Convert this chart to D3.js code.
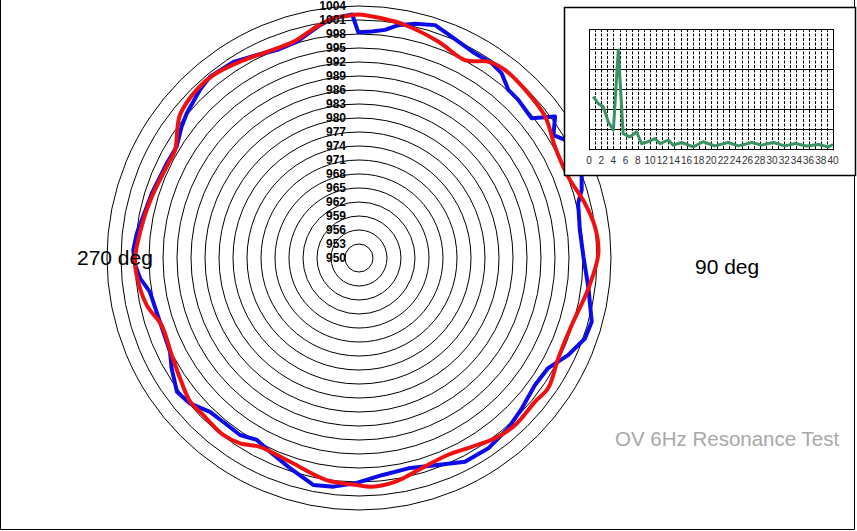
<!DOCTYPE html>
<html>
<head>
<meta charset="utf-8">
<script src="https://cdn.jsdelivr.net/npm/d3@7/dist/d3.min.js"></script>
<style>
  html, body { margin: 0; padding: 0; background: #fff; }
  svg { display: block; font-family: "Liberation Sans", Arial, sans-serif; }
</style>
</head>
<body>
<svg id="chart" width="857" height="531"></svg>
<script>
// ---------- data ----------
const ringValues = [950, 953, 956, 959, 962, 965, 968, 971, 974, 977, 980, 983, 986, 989, 992, 995, 998, 1001, 1004];

const blueAngles = [3.2, 6.5, 9.6, 13.5, 18.1, 22.7, 29.5, 34.3, 37.7, 41.6, 45.2, 51.0, 54.2, 57.7, 60.2, 65.0, 69.6, 73.0, 76.0, 82.8, 89.7, 97.5, 105.3, 109.6, 114.9, 120.2, 125.8, 132.7, 138.8, 145.8, 152.5, 159.8, 166.8, 174.0, 181.0, 186.4, 191.4, 198.2, 204.7, 209.3, 213.9, 219.7, 224.1, 229.3, 233.7, 239.5, 243.6, 252.3, 260.8, 264.7, 268.2, 272.0, 276.3, 280.8, 287.3, 296.2, 301.4, 306.5, 310.0, 316.6, 320.6, 327.4, 333.3, 338.4, 343.9, 350.5, 353.9, 358.4, 359.8];
const blueValues = [998.6, 999.2, 1000.6, 1001.6, 1002.5, 1001.4, 1000.4, 1000.5, 1000.0, 998.2, 998.1, 997.6, 1001.8, 999.3, 1000.9, 1001.2, 1000.9, 999.9, 998.4, 997.7, 998.1, 999.6, 1001.7, 1001.4, 999.4, 996.9, 996.5, 997.5, 998.5, 999.3, 999.2, 997.3, 996.3, 996.8, 998.3, 999.3, 999.6, 997.4, 995.7, 994.7, 995.7, 995.6, 995.9, 997.8, 998.4, 996.6, 995.2, 994.8, 995.4, 997.1, 998.0, 998.4, 997.9, 997.1, 996.5, 995.9, 995.8, 997.3, 998.2, 999.6, 1000.3, 999.9, 998.7, 997.9, 998.2, 1000.6, 1001.7, 1002.2, 998.4];

const redAngles = [5.4, 11.2, 20.1, 28.2, 33.4, 37.8, 45.8, 52.8, 60.4, 68.8, 76.4, 82.4, 88.9, 97.5, 107.5, 116.7, 124.5, 129.2, 137.0, 143.0, 149.2, 155.6, 163.4, 170.9, 176.8, 181.0, 188.3, 198.7, 207.7, 212.7, 217.5, 224.8, 229.6, 236.1, 242.6, 251.2, 257.5, 265.6, 269.7, 280.0, 287.5, 296.4, 300.4, 308.6, 316.0, 321.5, 328.8, 335.9, 343.1, 349.6, 353.9, 357.1, 359.8];
const redValues = [1001.6, 1000.9, 999.4, 998.1, 1000.4, 1001.0, 1000.6, 1000.1, 998.3, 998.1, 999.8, 1001.0, 1001.3, 999.6, 997.8, 997.8, 999.2, 998.7, 999.0, 998.4, 997.1, 996.3, 997.0, 998.6, 999.1, 998.6, 998.1, 996.1, 995.7, 997.2, 997.8, 997.4, 997.5, 996.2, 995.2, 994.7, 996.6, 997.8, 998.0, 996.9, 996.2, 995.6, 995.7, 999.1, 1000.1, 1000.1, 999.2, 998.4, 998.4, 1000.4, 1001.7, 1001.9, 1002.2];

const spectrumFreq = [0.7, 1.5, 2.35, 3.15, 4.0, 4.8, 5.6, 6.7, 7.8, 8.6, 9.7, 10.8, 11.6, 13.0, 13.8, 15.2, 17.1, 18.7, 20.6, 22.8, 24.5, 26.7, 28.3, 30.2, 32.1, 33.8, 35.7, 37.6, 39.2, 40];
const spectrumAmp = [2.6, 2.26, 2.09, 1.34, 0.92, 4.94, 0.75, 0.58, 0.84, 0.25, 0.34, 0.5, 0.25, 0.42, 0.17, 0.3, 0.08, 0.34, 0.13, 0.3, 0.13, 0.3, 0.17, 0.3, 0.13, 0.25, 0.13, 0.2, 0.08, 0.2];
const spectrumTicks = [0, 2, 4, 6, 8, 10, 12, 14, 16, 18, 20, 22, 24, 26, 28, 30, 32, 34, 36, 38, 40];

const angleLabels = ["270 deg", "90 deg"];
const titleText = "OV 6Hz Resonance Test";

// ---------- layout ----------
const svg = d3.select("#chart");
const cx = 359, cy = 258;

const rScale = d3.scaleLinear().domain([950, 1004]).range([0, 252]);
const aScale = d3.scaleLinear().domain([0, 360]).range([0, 2 * Math.PI]);

// frame
svg.append("path")
  .attr("d", "M0.5,0 V529.5 H854.5 V0")
  .attr("fill", "none").attr("stroke", "#000").attr("stroke-width", 1);

const polar = svg.append("g").attr("transform", `translate(${cx},${cy})`);

// rings
polar.selectAll("circle.ring")
  .data(ringValues.slice(1))
  .join("circle")
  .attr("class", "ring")
  .attr("r", d => rScale(d))
  .attr("fill", "none")
  .attr("stroke", "#000")
  .attr("stroke-width", 1);

function series(angles, values) {
  return angles.map((a, i) => [aScale(a), rScale(values[i])]);
}

const blueLine = d3.lineRadial().curve(d3.curveLinearClosed);
const redLine = d3.lineRadial().curve(d3.curveCatmullRomClosed.alpha(0.5));

polar.append("path")
  .attr("d", blueLine(series(blueAngles, blueValues)))
  .attr("fill", "none").attr("stroke", "#0a0aeb").attr("stroke-width", 4)
  .attr("stroke-linejoin", "round");

polar.append("path")
  .attr("d", redLine(series(redAngles, redValues)))
  .attr("fill", "none").attr("stroke", "#f01010").attr("stroke-width", 4)
  .attr("stroke-linejoin", "round");

// ring labels
polar.selectAll("text.rl")
  .data(ringValues)
  .join("text")
  .attr("class", "rl")
  .attr("x", -13)
  .attr("y", d => -rScale(d))
  .attr("dy", "0.35em")
  .attr("text-anchor", "end")
  .attr("font-size", 12)
  .attr("font-weight", "bold")
  .attr("fill", "#000")
  .text(d => d);

// angle labels
svg.append("text").attr("x", 77).attr("y", 265).attr("font-size", 21).attr("fill", "#000").text(angleLabels[0]);
svg.append("text").attr("x", 695).attr("y", 274).attr("font-size", 21).attr("fill", "#000").text(angleLabels[1]);

// title
svg.append("text").attr("x", 615).attr("y", 446).attr("font-size", 20.5).attr("fill", "#a8a8a8").text(titleText);

// ---------- inset spectrum ----------
const inset = svg.append("g");
inset.append("rect")
  .attr("x", 564.5).attr("y", 7.5).attr("width", 291).attr("height", 168)
  .attr("fill", "#fff").attr("stroke", "#000").attr("stroke-width", 1.5);

const xS = d3.scaleLinear().domain([0, 40]).range([589, 833]);
const yS = d3.scaleLinear().domain([0, 6]).range([148.5, 29]);

// vertical gridlines
inset.selectAll("line.vg")
  .data(d3.range(0, 41))
  .join("line")
  .attr("class", "vg")
  .attr("x1", d => Math.round(xS(d)) + 0.5).attr("x2", d => Math.round(xS(d)) + 0.5)
  .attr("y1", yS(6)).attr("y2", yS(0) + 2)
  .attr("stroke", "#000").attr("stroke-width", 1)
  .attr("stroke-dasharray", d => (d === 0 || d === 40) ? null : "3,1.5");

// horizontal gridlines
inset.selectAll("line.hg")
  .data(d3.range(0, 7))
  .join("line")
  .attr("class", "hg")
  .attr("x1", xS(0)).attr("x2", xS(40))
  .attr("y1", d => Math.round(yS(d)) + 0.5).attr("y2", d => Math.round(yS(d)) + 0.5)
  .attr("stroke", "#000").attr("stroke-width", 1.2);

// x tick labels
inset.selectAll("text.xt")
  .data(spectrumTicks)
  .join("text")
  .attr("class", "xt")
  .attr("x", d => xS(d))
  .attr("y", 163.5)
  .attr("text-anchor", "middle")
  .attr("font-size", 10)
  .attr("fill", "#333")
  .text(d => d);

const specLine = d3.line().x(d => xS(d[0])).y(d => yS(d[1]));
inset.append("path")
  .attr("d", specLine(spectrumFreq.map((f, i) => [f, spectrumAmp[i]])))
  .attr("fill", "none").attr("stroke", "#3a9262").attr("stroke-width", 3)
  .attr("stroke-linejoin", "round");
</script>
</body>
</html>
